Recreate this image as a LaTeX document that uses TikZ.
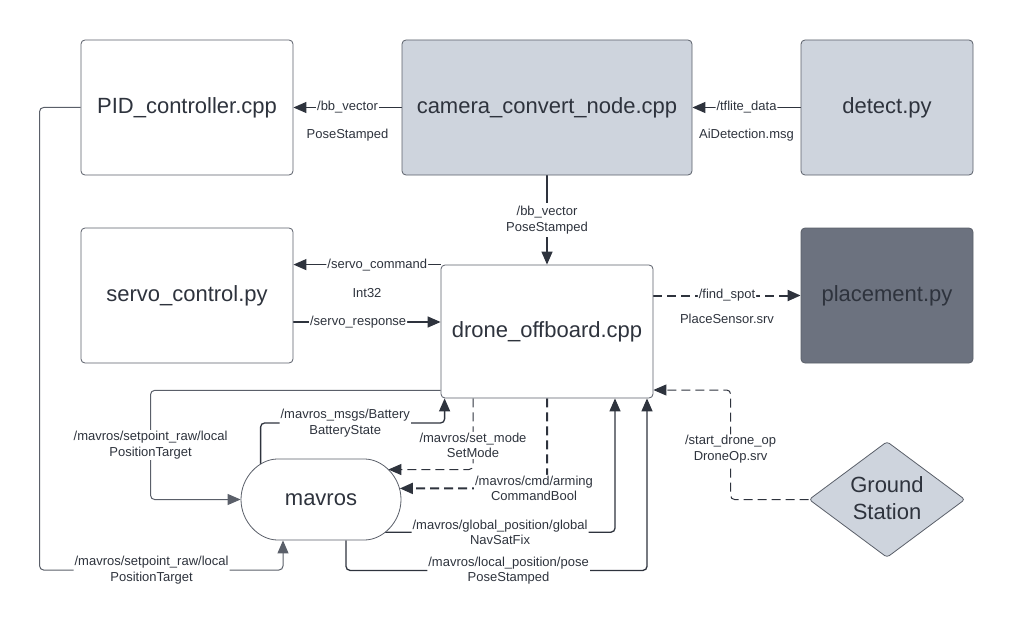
\documentclass[tikz,border=0pt]{standalone}
\usepackage{fontspec}
\setmainfont{Liberation Sans}
\usetikzlibrary{arrows.meta,shapes.geometric,shapes.misc,backgrounds}
\definecolor{ink}{RGB}{46,51,61}
\definecolor{edge}{RGB}{90,95,105}
\definecolor{paleblue}{RGB}{206,212,221}
\definecolor{slate}{RGB}{108,114,127}
\newcommand{\bigtxt}{\fontsize{22}{27}\selectfont}
\newcommand{\smalltxt}{\fontsize{13}{15.5}\selectfont}

\begin{document}
\begin{tikzpicture}[x=1pt, y=-1pt,
    every node/.style={inner sep=0pt, text=ink},
    box/.style={draw=edge, line width=0.8pt, rounded corners=4pt, font=\bigtxt},
    lbl/.style={font=\smalltxt, fill=white, align=center, inner sep=1pt},
    sub/.style={font=\smalltxt},
    link/.style={draw=ink, line width=1.3pt, rounded corners=4pt, -{Triangle[length=13pt,width=11pt]}},
    thin/.style={line width=1pt},
    dsh/.style={dash pattern=on 9pt off 5pt}]
  \useasboundingbox (0,0) rectangle (1013,626);

  % Boxes
  \foreach \nm/\x/\y/\w/\h/\col/\txt in {
      pid/187/107.5/212/135/white/PID\_controller.cpp,
      cam/547/107.5/290/135/paleblue/camera\_convert\_node.cpp,
      det/887/107.5/172/135/paleblue/detect.py,
      servo/187/295.5/212/135/white/servo\_control.py,
      drone/547/331.5/212/133/white/drone\_offboard.cpp,
      place/887/295.5/172/135/slate/placement.py} {
    \node[box, fill=\col, minimum width=\w pt, minimum height=\h pt] (\nm) at (\x,\y) {\txt};
  }
  \node[box, rounded rectangle, fill=white, minimum width=160pt, minimum height=81pt] (mav) at (321,499.5) {mavros};
  \node[box, diamond, aspect=1.345, rounded corners=3pt, fill=paleblue, minimum width=156pt,
        minimum height=116pt, align=center] (gs) at (887,499.5) {\raisebox{3pt}{Ground}\\\raisebox{3pt}{Station}};

  \begin{scope}[on background layer]
    % Camera chain
    \draw[link] (cam) -- (pid) node[lbl, midway] {/bb\_vector} node[sub, midway, yshift=-28pt] {PoseStamped};
    \draw[link] (det) -- (cam) node[lbl, midway] {/tflite\_data} node[sub, midway, yshift=-28pt] {AiDetection.msg};
    \draw[link] (cam) -- (drone) node[lbl, midway, inner sep=3pt] {/bb\_vector\\PoseStamped};

    % Servo and placement
    \draw[link] (drone.north west) -- (drone.north west -| servo.east)
      node[lbl, pos=0.43] {/servo\_command} node[sub, midway, yshift=-28pt] {Int32};
    \draw[link] ([yshift=-26.5pt]servo.east) -- ([yshift=-26.5pt]servo.east -| drone.west)
      node[lbl, pos=0.44] {/servo\_response};
    \draw[link, dsh, line width=2pt] (drone.east |- place.west) -- (place.west)
      node[lbl, midway] {/find\_spot} node[sub, midway, yshift=-23pt] {PlaceSensor.srv};

    % Drone <-> mavros
    \draw[link, thin, draw=edge] ([yshift=8pt]drone.south west) -- ++(-290,0) |- (mav.west)
      node[lbl, pos=0.25] {/mavros/setpoint\_raw/local\\PositionTarget};
    \draw[link] ([xshift=20pt]mav.west) -- ++(0,-76.5) -| ([xshift=4pt]drone.south west)
      node[lbl, pos=0.23] {/mavros\_msgs/Battery\\BatteryState};
    \draw[link, dsh, thin] ([xshift=-74pt]drone.south) |- (mav.24)
      node[lbl, pos=0.33] {/mavros/set\_mode\\SetMode};
    \draw[link, dsh, line width=2pt] (drone.south) |- (mav.8)
      node[lbl, pos=0.5, xshift=-13pt] {/mavros/cmd/arming\\CommandBool};
    \draw[link] (mav.-27) -| ([xshift=68pt]drone.south)
      node[lbl, pos=0.25] {/mavros/global\_position/global\\NavSatFix};
    \draw[link] ([xshift=25pt]mav.south) -- ++(0,30) -| ([xshift=100pt]drone.south)
      node[lbl, pos=0.27] {/mavros/local\_position/pose\\PoseStamped};

    % Ground station and PID
    \draw[link, dsh, thin] (gs.west) -- ++(-78,0) |- ([yshift=-58.5pt]drone.east)
      node[lbl, pos=0.23] {/start\_drone\_op\\DroneOp.srv};
    \draw[link, thin, draw=edge] (pid.west) -| ++(-41,462.5) -| ([xshift=-38pt]mav.south)
      node[lbl, pos=0.23] {/mavros/setpoint\_raw/local\\PositionTarget};
  \end{scope}
\end{tikzpicture}
\end{document}
